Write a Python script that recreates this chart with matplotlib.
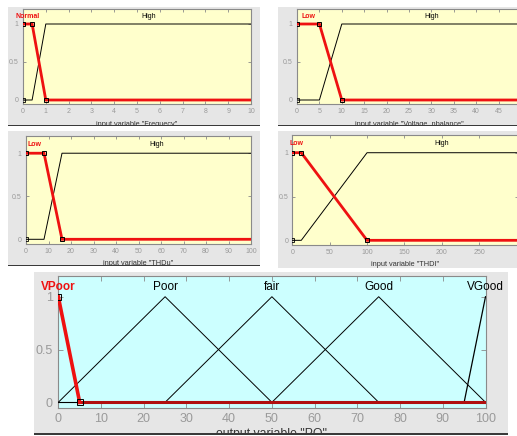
import matplotlib
matplotlib.use("Agg")
import matplotlib.pyplot as plt
from matplotlib.patches import Rectangle

plt.rcParams["font.family"] = ["Liberation Sans", "DejaVu Sans"]

W, H = 517, 436

# ---------------- data ----------------
freq_x = [0, 0.4, 1, 10]
freq_normal = [1, 1, 0, 0]
freq_high = [0, 0, 1, 1]

vu_x = [0, 5, 10, 50]
vu_low = [1, 1, 0, 0]
vu_high = [0, 0, 1, 1]

thdu_x = [0, 8, 16, 100]
thdu_low = [1, 1, 0, 0]
thdu_high = [0, 0, 1, 1]

thdi_x = [0, 12, 100, 300]
thdi_low = [1, 1, 0, 0]
thdi_high = [0, 0, 1, 1]

pq_vpoor_x = [0, 5, 100]
pq_vpoor_y = [1, 0, 0]
pq_poor_x = [0, 25, 50]
pq_fair_x = [25, 50, 75]
pq_good_x = [50, 75, 100]
tri_y = [0, 1, 0]
pq_vgood_x = [95, 100]
pq_vgood_y = [0, 1]

RED = "#ee1111"
YELLOW = "#ffffcc"
CYAN = "#ccffff"
GRAY = "#e6e6e6"
TICKC = "#9a9a9a"
SPINEC = "#8a8a8a"

fig = plt.figure(figsize=(W / 100, H / 100), dpi=100)
fig.patch.set_facecolor("white")


def frect(x0, y0, x1, y1, color, z=-5):
    r = Rectangle((x0 / W, 1 - y1 / H), (x1 - x0) / W, (y1 - y0) / H,
                  transform=fig.transFigure, facecolor=color, edgecolor="none", zorder=z)
    fig.add_artist(r)
    return r


def add_ax(x0, y0, x1, y1):
    return fig.add_axes([x0 / W, 1 - y1 / H, (x1 - x0) / W, (y1 - y0) / H])


# gray panel backgrounds
frect(8, 7, 260, 126, GRAY)
frect(278, 7, 517, 126, GRAY)
frect(8, 131, 260, 266, GRAY)
frect(278, 131, 517, 268, GRAY)
frect(34, 272, 508, 434, GRAY)


def style(ax, bg, xt, xlim, ylim, fs, xlabel, xlfs, labelpad, pad=3):
    ax.set_facecolor(bg)
    ax.set_xlim(*xlim)
    ax.set_ylim(*ylim)
    ax.set_xticks(xt)
    ax.set_xticklabels([str(v) for v in xt])
    ax.set_yticks([0, 0.5, 1])
    ax.set_yticklabels(["0", "0.5", "1"])
    ax.tick_params(direction="in", length=2.5, width=0.6, colors=SPINEC,
                   labelcolor=TICKC, labelsize=fs, top=True, right=True, pad=pad)
    for s in ax.spines.values():
        s.set_color(SPINEC)
        s.set_linewidth(0.8)
    ax.set_xlabel(xlabel, fontsize=xlfs, color="#333333", labelpad=labelpad)


def mf_panel(ax, x, low, high, lowname, highname):
    ax.plot(x, high, color="black", lw=0.7, zorder=3)
    ax.plot(x, low, color=RED, lw=2.0, zorder=4, solid_joinstyle="miter")
    ax.plot([x[0], x[1], x[2]], [low[0], low[1], low[2]], ls="none", marker="s",
            ms=3.2, mfc="none", mec="black", mew=0.7, zorder=5)
    ax.plot([x[0]], [0], ls="none", marker="s", ms=2.5, mfc="none", mec="black",
            mew=0.6, zorder=5)
    ax.text((x[0] + x[1]) / 2, 1.1, lowname, color=RED, fontsize=5,
            fontweight="bold", ha="center", va="center", zorder=6)
    ax.text((x[2] + x[3]) / 2, 1.1, highname, color="black", fontsize=5,
            ha="center", va="center", zorder=6)


YL = (-0.05, 1.2)
TFS = 5.0   # top panels tick font
XLFS = 5.3  # top panels xlabel font

# top-left: Frequency
ax1 = add_ax(23, 8.8, 251, 103.8)
mf_panel(ax1, freq_x, freq_normal, freq_high, "Normal", "High")
style(ax1, YELLOW, list(range(0, 11)), (0, 10), YL, TFS, 'input variable "Frequecy"', XLFS, 4)

# top-right: Voltage unbalance
ax2 = add_ax(297, 8.8, 521, 103.8)
mf_panel(ax2, vu_x, vu_low, vu_high, "Low", "High")
style(ax2, YELLOW, list(range(0, 50, 5)), (0, 50), YL, TFS, 'input variable "Voltage_nbalance"', XLFS, 4)

# middle-left: THDu
ax3 = add_ax(26, 136, 251, 243.6)
mf_panel(ax3, thdu_x, thdu_low, thdu_high, "Low", "High")
style(ax3, YELLOW, list(range(0, 110, 10)), (0, 100), YL, TFS, 'input variable "THDu"', XLFS, 4)

# middle-right: THDI
ax4 = add_ax(292.3, 135.2, 518, 244.7)
mf_panel(ax4, thdi_x, thdi_low, thdi_high, "Low", "High")
style(ax4, YELLOW, list(range(0, 300, 50)), (0, 302), YL, TFS, 'input variable "THDI"', XLFS, 4)

# bottom: PQ output
ax5 = add_ax(58.3, 275.6, 485.5, 407.6)
ax5.plot(pq_poor_x, tri_y, color="black", lw=0.7, zorder=3)
ax5.plot(pq_fair_x, tri_y, color="black", lw=0.7, zorder=3)
ax5.plot(pq_good_x, tri_y, color="black", lw=0.7, zorder=3)
ax5.plot(pq_vgood_x, pq_vgood_y, color="black", lw=0.9, zorder=3)
ax5.plot([0, 5], [0, 0], color="black", lw=0.8, zorder=3)
ax5.plot(pq_vpoor_x[1:], pq_vpoor_y[1:], color="#b01010", lw=2.2, zorder=4)
ax5.plot(pq_vpoor_x[:2], pq_vpoor_y[:2], color=RED, lw=2.6, zorder=4)
ax5.plot(pq_vpoor_x[:2], pq_vpoor_y[:2], ls="none", marker="s", ms=4,
         mfc="none", mec="black", mew=0.7, zorder=5)
ax5.text(0, 1.09, "VPoor", color=RED, fontsize=8.5, fontweight="bold", ha="center", va="center")
ax5.text(25, 1.09, "Poor", color="black", fontsize=8.5, ha="center", va="center")
ax5.text(50, 1.09, "fair", color="black", fontsize=8.5, ha="center", va="center")
ax5.text(75, 1.09, "Good", color="black", fontsize=8.5, ha="center", va="center")
ax5.text(100, 1.09, "VGood", color="black", fontsize=8.5, ha="center", va="center")
style(ax5, CYAN, list(range(0, 110, 10)), (0, 100), YL, 9, 'output variable "PQ"', 8.8, 2, pad=4)
ax5.tick_params(length=3.5)

# panel bottom edges (dark lines) and white gaps cutting xlabels
for (x0, x1, y) in [(8, 260, 125.5), (278, 517, 125.5), (8, 260, 265.5), (34, 508, 434)]:
    frect(x0, y + 0.5, x1, y + 6, "white", z=9)
    frect(x0, y - 0.8, x1, y + 0.8, "#3a3a3a", z=10)

fig.savefig("out.png", dpi=100)
